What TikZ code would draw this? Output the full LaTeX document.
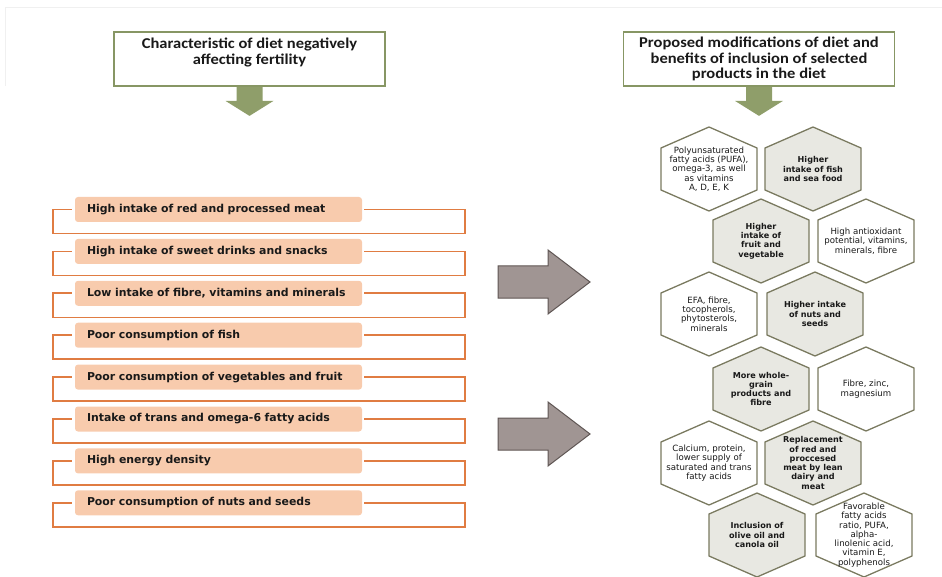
\documentclass[tikz,border=0pt]{standalone}
\usepackage{fontspec}
\setmainfont{DejaVu Sans}
\newfontfamily\hdrfont[FakeStretch=1.1]{Carlito}
\usetikzlibrary{calc}
\definecolor{olivefill}{RGB}{143,158,106}
\definecolor{oliveline}{RGB}{135,150,100}
\definecolor{pinkfill}{RGB}{248,203,173}
\definecolor{orangeline}{RGB}{224,124,66}
\definecolor{arrowgray}{RGB}{160,149,147}
\definecolor{arrowedge}{RGB}{95,86,84}
\definecolor{hexline}{RGB}{122,122,96}
\definecolor{hexgray}{RGB}{232,232,226}
\definecolor{txt}{RGB}{25,25,25}
\newcommand\hexcell[6]{%
  \path[hexshape, fill=#4] (#2,#3) +(0,-42) -- +(48,-21) -- +(48,21) -- +(0,42) -- +(-48,21) -- +(-48,-21) -- cycle;
  \node[hextext, #5] (#1) at (#2,#3) {#6};}
\begin{document}
\begin{tikzpicture}[x=1pt,y=-1pt,
  hdr/.style={draw=oliveline, line width=1.8pt, fill=white, minimum width=271pt, minimum height=54pt,
    align=center, inner sep=0pt, text=txt, font=\hdrfont\bfseries\fontsize{15}{15.8}\selectfont},
  pinkbox/.style={fill=pinkfill, rounded corners=3pt, minimum height=25pt, text width=263pt,
    inner xsep=12pt, inner ysep=0pt, align=left, text=txt, font=\bfseries\fontsize{10.9}{12}\selectfont},
  bracket/.style={draw=orangeline, line width=1.6pt},
  greenarrow/.style={fill=olivefill},
  grayarrow/.style={fill=arrowgray, draw=arrowedge, line width=1pt, line join=miter},
  hexshape/.style={draw=hexline, line width=1.3pt, line join=miter},
  hextext/.style={align=center, inner sep=0pt, text=txt, font=\fontsize{8.6}{9.3}\selectfont},
  hexbold/.style={font=\bfseries\fontsize{8.1}{9.3}\selectfont}
]
\useasboundingbox (0,0) rectangle (942,577);
\draw[gray!12, line width=0.8pt] (5,86) -- (5,7) -- (942,7);

% headers
\node[hdr] (hl) at (249.5,59) {Characteristic of diet negatively\\affecting fertility\\\mbox{}};
\node[hdr] (hr) at (759,59) {Proposed modifications of diet and\\benefits of inclusion of selected\\products in the diet};

\foreach \h in {hl,hr}{
  \fill[greenarrow] ($(\h.south)+(-13,0)$) -- ++(0,14) -- ++(-11,0) -- ($(\h.south)+(0,29)$)
     -- ++(24,-15) -- ++(-11,0) -- ++(0,-14) -- cycle;
}

% list
\foreach \i/\t in {1/High intake of red and processed meat,
                   2/High intake of sweet drinks and snacks,
                   3/{Low intake of fibre, vitamins and minerals},
                   4/Poor consumption of fish,
                   5/Poor consumption of vegetables and fruit,
                   6/Intake of trans and omega-6 fatty acids,
                   7/High energy density,
                   8/Poor consumption of nuts and seeds}{
  \node[pinkbox] (p\i) at (218.5,{209.5+41.9*(\i-1)}) {\t};
  \draw[bracket] ([xshift=-3pt]p\i.west) -- ++(-19,0) -- ++(0,24) -- ++(412,0) -- ++(0,-24)
     -- ([xshift=2pt]p\i.east);
}

% big gray arrows
\filldraw[grayarrow] (498,266) -- (548,266) -- (548,250) -- (590,282) -- (548,314) -- (548,298) -- (498,298) -- cycle;
\filldraw[grayarrow] (498,418) -- (548,418) -- (548,402) -- (590,434) -- (548,466) -- (548,450) -- (498,450) -- cycle;

% hexagons
\hexcell{x1}{709}{169}{white}{}{Polyunsaturated\\fatty acids (PUFA),\\omega-3, as well\\as vitamins\\A, D, E, K}
\hexcell{x2}{813}{169}{hexgray}{hexbold}{Higher\\intake of fish\\and sea food}
\hexcell{x3}{761}{241}{hexgray}{hexbold}{Higher\\intake of\\fruit and\\vegetable}
\hexcell{x4}{866}{241}{white}{}{High antioxidant\\potential, vitamins,\\minerals, fibre}
\hexcell{x5}{709}{314}{white}{}{EFA, fibre,\\tocopherols,\\phytosterols,\\minerals}
\hexcell{x6}{815}{314}{hexgray}{hexbold}{Higher intake\\of nuts and\\seeds}
\hexcell{x7}{761}{389}{hexgray}{hexbold}{More whole-\\grain\\products and\\fibre}
\hexcell{x8}{866}{389}{white}{}{Fibre, zinc,\\magnesium}
\hexcell{x9}{709}{463}{white}{}{Calcium, protein,\\lower supply of\\saturated and trans\\fatty acids}
\hexcell{x10}{813}{463}{hexgray}{hexbold}{Replacement\\of red and\\proccesed\\meat by lean\\dairy and\\meat}
\hexcell{x11}{757}{535}{hexgray}{hexbold}{Inclusion of\\olive oil and\\canola oil}
\hexcell{x12}{864}{535}{white}{}{Favorable\\fatty acids\\ratio, PUFA,\\alpha-\\linolenic acid,\\vitamin E,\\polyphenols}
\end{tikzpicture}
\end{document}
